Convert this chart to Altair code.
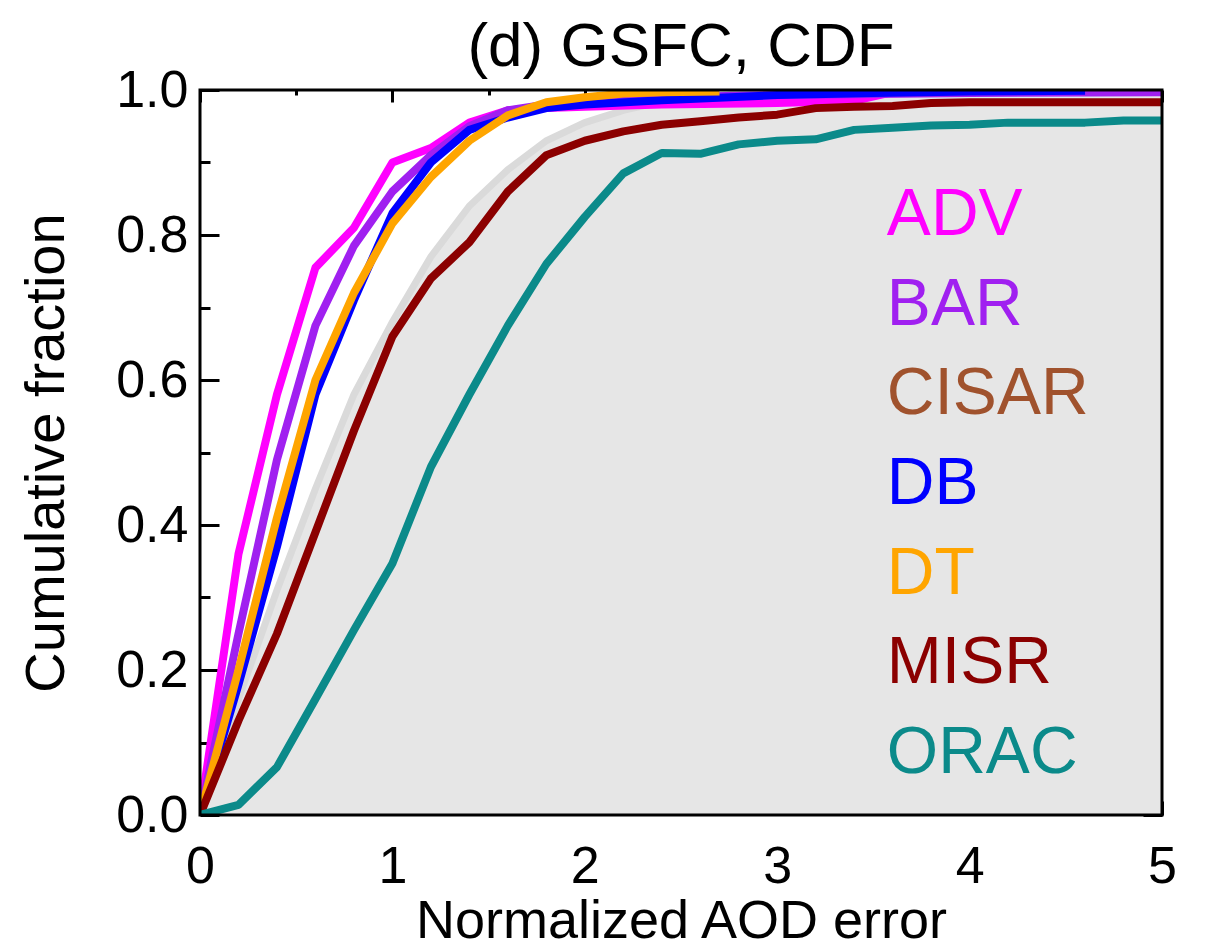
import altair as alt
import pandas as pd

# ---------------- data ----------------
series_names = ["ADV", "BAR", "CISAR", "DB", "DT", "MISR", "ORAC"]
series_colors = ["#ff00ff", "#a020f0", "#a0522d", "#0000ff", "#ffa500", "#8b0000", "#0b8a8a"]

adv_x = [0, 0.2, 0.4, 0.6, 0.8, 1.0, 1.2, 1.4, 1.6, 1.8, 2.0, 2.4, 3.0, 3.4, 3.6, 4.0, 5.0]
adv_y = [0, 0.36, 0.58, 0.755, 0.81, 0.90, 0.92, 0.955, 0.972, 0.975, 0.977, 0.98, 0.982, 0.985, 0.997, 0.998, 0.998]

bar_x = [0, 0.2, 0.4, 0.6, 0.8, 1.0, 1.2, 1.4, 1.6, 1.8, 2.0, 2.4, 3.0, 4.0, 5.0]
bar_y = [0, 0.25, 0.49, 0.675, 0.785, 0.86, 0.91, 0.95, 0.972, 0.98, 0.985, 0.99, 0.993, 0.996, 0.997]

db_x = [0, 0.2, 0.4, 0.6, 0.8, 1.0, 1.2, 1.4, 1.6, 1.8, 2.0, 2.4, 3.0, 3.5, 4.0, 4.6]
db_y = [0, 0.18, 0.37, 0.58, 0.71, 0.83, 0.90, 0.945, 0.962, 0.975, 0.98, 0.986, 0.993, 0.996, 0.998, 0.999]

dt_x = [0, 0.2, 0.4, 0.6, 0.8, 1.0, 1.2, 1.4, 1.6, 1.8, 2.0, 2.2, 2.4, 2.7]
dt_y = [0, 0.20, 0.41, 0.60, 0.72, 0.816, 0.88, 0.93, 0.965, 0.983, 0.99, 0.995, 0.997, 0.998]

misr_x = [0, 0.2, 0.4, 0.6, 0.8, 1.0, 1.2, 1.4, 1.6, 1.8, 2.0, 2.2, 2.4, 2.6, 2.8, 3.0, 3.2, 3.4, 3.6, 3.8, 4.0, 5.0]
misr_y = [0, 0.13, 0.25, 0.39, 0.53, 0.66, 0.74, 0.79, 0.86, 0.91, 0.93, 0.943, 0.952, 0.957, 0.962, 0.966,
          0.975, 0.977, 0.978, 0.982, 0.983, 0.983]

orac_x = [0, 0.2, 0.4, 0.6, 0.8, 1.0, 1.2, 1.4, 1.6, 1.8, 2.0, 2.2, 2.4, 2.6, 2.8, 3.0, 3.2, 3.4, 3.6,
          3.8, 4.0, 4.2, 4.4, 4.6, 4.8, 5.0]
orac_y = [0, 0.014, 0.066, 0.16, 0.255, 0.347, 0.48, 0.58, 0.675, 0.76, 0.825, 0.885, 0.913, 0.912, 0.925,
          0.93, 0.932, 0.945, 0.948, 0.951, 0.952, 0.955, 0.955, 0.955, 0.958, 0.958]

# gray reference (shaded) curve
ref_x = [0, 0.2, 0.4, 0.6, 0.8, 1.0, 1.2, 1.4, 1.6, 1.8, 2.0, 2.2, 2.4, 2.6, 2.8, 3.0, 3.5, 4.0, 5.0]
ref_y = [0, 0.16, 0.31, 0.45, 0.58, 0.68, 0.77, 0.84, 0.89, 0.93, 0.955, 0.972, 0.984, 0.99, 0.995, 0.997,
         1.0, 1.0, 1.0]

x_major = [0, 1, 2, 3, 4, 5]
x_minor = [0.5, 1.5, 2.5, 3.5, 4.5]
y_major = [0, 0.2, 0.4, 0.6, 0.8, 1.0]
y_minor = [0.1, 0.3, 0.5, 0.7, 0.9]

# ---------------- tables ----------------
line_data = {"ADV": (adv_x, adv_y), "BAR": (bar_x, bar_y), "DB": (db_x, db_y),
             "DT": (dt_x, dt_y), "MISR": (misr_x, misr_y), "ORAC": (orac_x, orac_y)}
rows = []
for name, (xs_, ys_) in line_data.items():
    for i, (a, b) in enumerate(zip(xs_, ys_)):
        rows.append({"series": name, "x": a, "y": b, "i": i})
lines_df = pd.DataFrame(rows)
ref_df = pd.DataFrame({"x": ref_x, "y": ref_y})
lab_df = pd.DataFrame({"series": series_names, "rank": list(range(len(series_names)))})
title_df = pd.DataFrame({"t": ["(d) GSFC, CDF"]})

FONT = "Liberation Sans, Arial, Helvetica, sans-serif"
W, H = 962, 725

xsc = alt.Scale(domain=[0, 5], nice=False, zero=False)
ysc = alt.Scale(domain=[0, 1], nice=False, zero=False)
csc = alt.Scale(domain=series_names, range=series_colors)


def axis(orient, values, size, labels=False, title=None, fmt=None, lpad=10, tpad=10, tsize=56):
    kw = dict(orient=orient, values=values, tickSize=size, offset=-size, domain=False, grid=False,
              ticks=True, tickColor="black", tickWidth=3, labels=labels)
    if labels:
        kw.update(labelFontSize=52, labelFont=FONT, labelColor="black", labelPadding=lpad,
                  labelFlush=False, labelOverlap=False)
        if fmt:
            kw["format"] = fmt
    if title:
        kw.update(title=title, titleFontSize=tsize, titleFont=FONT, titleFontWeight="normal",
                  titleColor="black", titlePadding=tpad)
    else:
        kw["title"] = None
    return alt.Axis(**kw)


area = alt.Chart(ref_df).mark_area(color="#e6e6e6", clip=True).encode(
    x=alt.X("x:Q", scale=xsc,
            axis=axis("bottom", x_major, 14, True, "Normalized AOD error", "d", 26, 2, 54)),
    y=alt.Y("y:Q", scale=ysc,
            axis=axis("left", y_major, 19, True, "Cumulative fraction", ".1f", 12, 40, 56)),
)

ref_line = alt.Chart(ref_df).mark_line(color="#dadada", strokeWidth=7, clip=True).encode(
    x=alt.X("x:Q", scale=xsc, axis=axis("bottom", x_minor, 6)),
    y=alt.Y("y:Q", scale=ysc, axis=axis("left", y_minor, 10)),
)

lines = alt.Chart(lines_df).mark_line(strokeWidth=8, clip=True, strokeJoin="round").encode(
    x=alt.X("x:Q", scale=xsc, axis=axis("top", x_major, 12)),
    y=alt.Y("y:Q", scale=ysc, axis=axis("right", y_major, 19)),
    color=alt.Color("series:N", scale=csc, legend=None),
    order=alt.Order("i:Q"),
    detail="series:N",
)

ghost = alt.Chart(ref_df).mark_point(opacity=0, size=1).encode(
    x=alt.X("x:Q", scale=xsc, axis=axis("top", x_minor, 5)),
    y=alt.Y("y:Q", scale=ysc, axis=axis("right", y_minor, 10)),
)

labels = alt.Chart(lab_df).mark_text(
    align="left", baseline="alphabetic", fontSize=66, font=FONT
).transform_calculate(
    lx="3.57", ly="0.80 - datum.rank * 0.1237"
).encode(
    x=alt.X("lx:Q", scale=xsc, axis=None),
    y=alt.Y("ly:Q", scale=ysc, axis=None),
    text="series:N",
    color=alt.Color("series:N", scale=csc, legend=None),
)

title = alt.Chart(title_df).mark_text(
    align="center", baseline="alphabetic", fontSize=62, font=FONT, color="black"
).encode(x=alt.value(W / 2), y=alt.value(-24), text="t:N")

frame = alt.Chart(pd.DataFrame({"a": [0]})).mark_rect(
    fillOpacity=0, stroke="black", strokeWidth=3
).encode(x=alt.value(0), x2=alt.value(W), y=alt.value(0), y2=alt.value(H))

chart = alt.layer(area, ref_line, lines, ghost, labels, frame, title).resolve_axis(
    x="independent", y="independent"
).properties(
    width=W, height=H,
    autosize=alt.AutoSizeParams(type="none"),
    padding={"left": 192, "top": 82, "right": 36, "bottom": 136},
).configure_view(stroke=None).configure(background="white")

chart.save("out.html", embed_options={"renderer": "svg", "actions": False})
